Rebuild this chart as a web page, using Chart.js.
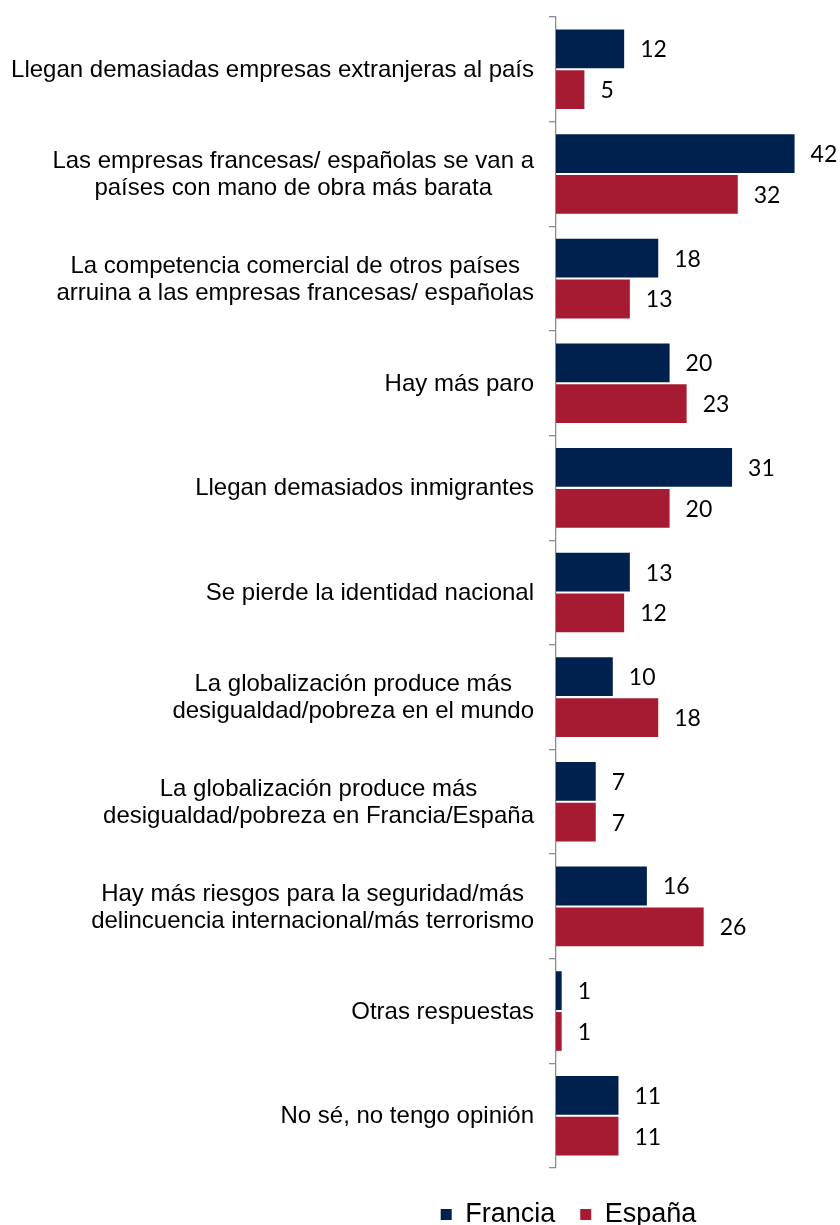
<!DOCTYPE html>
<html>
<head>
<meta charset="utf-8">
<script src="https://cdn.jsdelivr.net/npm/chart.js@4/dist/chart.umd.min.js"></script>
<style>
  html, body { margin: 0; padding: 0; background: #fff; }
  #wrap { width: 840px; height: 1225px; }
</style>
</head>
<body>
<div id="wrap"><canvas id="chart-razones"></canvas></div>
<script>
const categorias = [
    "Llegan demasiadas empresas extranjeras al país",
    ["Las empresas francesas/ españolas se van a", "países con mano de obra más barata"],
    ["La competencia comercial de otros países", "arruina a las empresas francesas/ españolas"],
    "Hay más paro",
    "Llegan demasiados inmigrantes",
    "Se pierde la identidad nacional",
    ["La globalización produce más", "desigualdad/pobreza en el mundo"],
    ["La globalización produce más", "desigualdad/pobreza en Francia/España"],
    ["Hay más riesgos para la seguridad/más", "delincuencia internacional/más terrorismo"],
    "Otras respuestas",
    "No sé, no tengo opinión"
];
const francia = [12, 42, 18, 20, 31, 13, 10, 7, 16, 1, 11];
const espana = [5, 32, 13, 23, 20, 12, 18, 7, 26, 1, 11];

const azul = '#00214D';
const rojo = '#A61B31';

// numeros a la derecha de cada barra
const etiquetasValor = {
    id: 'etiquetasValor',
    afterDatasetsDraw(chart) {
        const ctx = chart.ctx;
        ctx.save();
        ctx.font = '23px Lato';
        ctx.fillStyle = '#000';
        ctx.textAlign = 'left';
        ctx.textBaseline = 'middle';
        chart.data.datasets.forEach((ds, i) => {
            chart.getDatasetMeta(i).data.forEach((bar, j) => {
                ctx.fillText(ds.data[j], bar.x + 16, bar.y + 1);
            });
        });
        ctx.restore();
    }
};

// etiquetas de categoria: bloque alineado a la derecha, lineas centradas
const etiquetasCategoria = {
    id: 'etiquetasCategoria',
    afterDraw(chart) {
        const ctx = chart.ctx;
        const y = chart.scales.y;
        const right = y.right - 22;
        const lh = 27;
        ctx.save();
        ctx.font = '24px "Liberation Sans", Arial, sans-serif';
        ctx.fillStyle = '#000';
        ctx.textAlign = 'center';
        ctx.textBaseline = 'middle';
        categorias.forEach((lab, i) => {
            const lines = Array.isArray(lab) ? lab : [lab];
            const w = Math.max(...lines.map(l => ctx.measureText(l).width));
            const cx = right - w / 2;
            const cy = y.getPixelForValue(i);
            lines.forEach((l, k) => {
                ctx.fillText(l, cx, cy + (k - (lines.length - 1) / 2) * lh + 1);
            });
        });
        ctx.restore();
    }
};

let chartRazones = new Chart(document.getElementById('chart-razones').getContext('2d'), {
    type: 'bar',
    data: {
        labels: categorias,
        datasets: [{
            label: 'Francia',
            data: francia,
            backgroundColor: azul,
            borderWidth: 0
        }, {
            label: 'España',
            data: espana,
            backgroundColor: rojo,
            borderWidth: 0
        }]
    },
    options: {
        indexAxis: 'y',
        responsive: true,
        maintainAspectRatio: false,
        animation: false,
        categoryPercentage: 0.78,
        barPercentage: 0.95,
        // padding izquierdo grande para que la leyenda quede centrada como en el original
        layout: { padding: { top: 17, right: 0, bottom: -13, left: 297 } },
        scales: {
            x: {
                display: false,
                min: 0,
                max: 50
            },
            y: {
                afterFit(scale) { scale.width = 259; },
                ticks: { display: false },
                grid: {
                    display: true,
                    drawOnChartArea: false,
                    offset: true,
                    tickLength: 7,
                    color: '#8c8c8c',
                    lineWidth: 1.3
                },
                border: { display: true, color: '#8c8c8c', width: 1.3 }
            }
        },
        plugins: {
            legend: {
                position: 'bottom',
                title: {
                    display: true,
                    text: '',
                    font: { size: 1, lineHeight: 1 },
                    padding: { top: 7, bottom: 0 }
                },
                labels: {
                    boxWidth: 11,
                    boxHeight: 11,
                    padding: 25,
                    color: '#000',
                    font: { family: '"Liberation Sans", Arial, sans-serif', size: 27 }
                }
            },
            tooltip: { enabled: false }
        }
    },
    plugins: [etiquetasValor, etiquetasCategoria]
});
</script>
</body>
</html>
